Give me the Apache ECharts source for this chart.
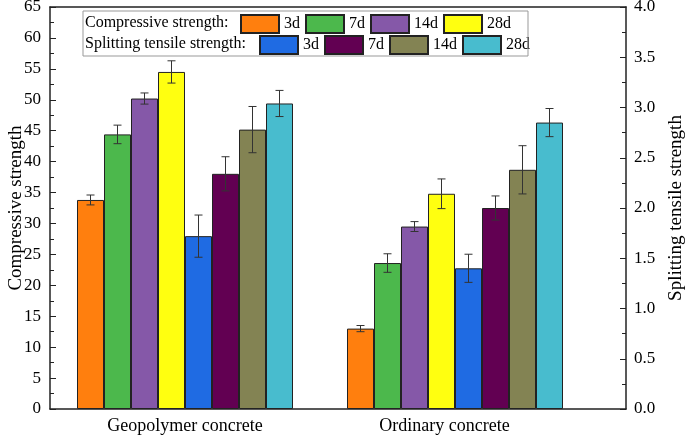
<!DOCTYPE html>
<html>
<head>
<meta charset="utf-8">
<script src="https://cdn.jsdelivr.net/npm/echarts@6/dist/echarts.min.js"></script>
<style>html,body{margin:0;padding:0;background:#fff}#c{width:685px;height:445px}</style>
</head>
<body>
<div id="c"></div>
<script>
// ---- data ----
var categories = ['Geopolymer concrete', 'Ordinary concrete'];
var ages = ['3d', '7d', '14d', '28d'];
var comp3d = [33.8, 13.0], comp7d = [44.4, 23.6], comp14d = [50.2, 29.5], comp28d = [54.5, 34.8];
var compErr3d = [0.8, 0.5], compErr7d = [1.5, 1.5], compErr14d = [0.9, 0.8], compErr28d = [1.8, 2.4];
var tens3d = [1.72, 1.40], tens7d = [2.34, 2.00], tens14d = [2.78, 2.38], tens28d = [3.04, 2.85];
var tensErr3d = [0.21, 0.14], tensErr7d = [0.17, 0.12], tensErr14d = [0.23, 0.24], tensErr28d = [0.13, 0.14];
var leftTicks = {min: 0, max: 65, interval: 5};
var rightTicks = {min: 0, max: 4, interval: 0.5};

var compColors = ['#FF7F0E', '#4CB84C', '#8558A8', '#FFFF10'];
var tensColors = ['#1F6BE3', '#620052', '#838353', '#48BCCE'];
var compVals = [comp3d, comp7d, comp14d, comp28d];
var compErrs = [compErr3d, compErr7d, compErr14d, compErr28d];
var tensVals = [tens3d, tens7d, tens14d, tens28d];
var tensErrs = [tensErr3d, tensErr7d, tensErr14d, tensErr28d];

var BAR_W = 27;
var FONT = 'Liberation Serif';
var AX = '#222';

var series = [];
ages.forEach(function (a, i) {
  series.push({
    name: 'C' + a, type: 'bar', xAxisIndex: 1, yAxisIndex: 1,
    data: compVals[i], barWidth: BAR_W, barGap: '0%',
    itemStyle: {color: compColors[i], borderColor: '#222', borderWidth: 1}
  });
});
ages.forEach(function (a, i) {
  series.push({
    name: 'S' + a, type: 'bar', xAxisIndex: 1, yAxisIndex: 2,
    data: tensVals[i], barWidth: BAR_W, barGap: '0%',
    itemStyle: {color: tensColors[i], borderColor: '#222', borderWidth: 1}
  });
});

function errData(vals, errs, base) {
  var out = [];
  vals.forEach(function (v, s) {
    v.forEach(function (val, c) { out.push([c, val, errs[s][c], base + s]); });
  });
  return out;
}
function renderErr(params, api) {
  var c = api.value(0), v = api.value(1), e = api.value(2), idx = api.value(3);
  var off = (idx - 3.5) * BAR_W;
  var hi = api.coord([c, v + e]), lo = api.coord([c, v - e]);
  var x = hi[0] + off, cap = 4;
  var st = {stroke: '#333', lineWidth: 1};
  return {type: 'group', children: [
    {type: 'line', shape: {x1: x, y1: hi[1], x2: x, y2: lo[1]}, style: st},
    {type: 'line', shape: {x1: x - cap, y1: hi[1], x2: x + cap, y2: hi[1]}, style: st},
    {type: 'line', shape: {x1: x - cap, y1: lo[1], x2: x + cap, y2: lo[1]}, style: st}
  ]};
}
series.push({type: 'custom', xAxisIndex: 1, yAxisIndex: 1, data: errData(compVals, compErrs, 0), renderItem: renderErr, z: 5});
series.push({type: 'custom', xAxisIndex: 1, yAxisIndex: 2, data: errData(tensVals, tensErrs, 4), renderItem: renderErr, z: 5});

var legendCommon = {
  orient: 'horizontal', itemWidth: 38, itemHeight: 18, itemGap: 5, icon: 'rect',
  textStyle: {fontFamily: FONT, fontSize: 16, color: '#000'},
  formatter: function (n) { return n.slice(1); },
  selectedMode: false, padding: 0
};
var numRich = {n: {fontFamily: FONT, fontSize: 17, color: '#000'}};

var option = {
  backgroundColor: '#fff',
  animation: false,
  textStyle: {fontFamily: FONT},
  grid: [
    {left: 50, right: 59, top: 7, bottom: 36, containLabel: false, outerBoundsMode: 'none'},
    {left: 50, right: 95, top: 7, bottom: 36, containLabel: false, outerBoundsMode: 'none'}
  ],
  title: [
    {text: 'Compressive strength:', left: 85, top: 15, padding: 0, textStyle: {fontFamily: FONT, fontSize: 16, fontWeight: 'normal', color: '#000'}},
    {text: 'Splitting tensile strength:', left: 85, top: 36, padding: 0, textStyle: {fontFamily: FONT, fontSize: 16, fontWeight: 'normal', color: '#000'}}
  ],
  legend: [
    Object.assign({data: ages.map(function (a) { return 'C' + a; }), left: 240, top: 14}, legendCommon),
    Object.assign({data: ages.map(function (a) { return 'S' + a; }), left: 259, top: 35}, legendCommon)
  ],
  graphic: [{type: 'rect', shape: {x: 83, y: 11, width: 445, height: 45}, style: {fill: 'none', stroke: '#999', lineWidth: 1}, z: 10}],
  xAxis: [
    {gridIndex: 0, type: 'value', min: 0, max: 1, position: 'bottom', axisLine: {lineStyle: {color: AX, width: 1.5}}, axisTick: {show: false}, axisLabel: {show: false}, splitLine: {show: false}},
    {gridIndex: 1, type: 'category', data: categories, position: 'bottom',
      axisLine: {show: false}, axisTick: {show: false}, splitLine: {show: false},
      axisLabel: {margin: 8, fontFamily: FONT, fontSize: 18, color: '#000',
        formatter: function (v, i) { return i === 1 ? '{b|' + v + '}' : '{a|' + v + '}'; },
        rich: {a: {fontFamily: FONT, fontSize: 18, color: '#000'}, b: {fontFamily: FONT, fontSize: 18, color: '#000', padding: [0, 21, 0, 0]}}}},
    {gridIndex: 0, type: 'value', min: 0, max: 1, position: 'top', axisLine: {lineStyle: {color: AX, width: 1.5}}, axisTick: {show: false}, axisLabel: {show: false}, splitLine: {show: false}}
  ],
  yAxis: [
    {gridIndex: 0, type: 'value', show: false, min: 0, max: 1},
    {gridIndex: 1, type: 'value', position: 'left', min: leftTicks.min, max: leftTicks.max, interval: leftTicks.interval,
      name: 'Compressive strength', nameLocation: 'middle', nameGap: 24, nameMoveOverlap: false,
      nameTextStyle: {fontFamily: FONT, fontSize: 19, color: '#000'},
      axisLine: {show: true, lineStyle: {color: AX, width: 1.5}},
      axisTick: {show: true, inside: true, length: 6, lineStyle: {color: AX}},
      minorTick: {show: true, splitNumber: 2, length: 4, lineStyle: {color: AX}},
      axisLabel: {margin: 9, fontFamily: FONT, fontSize: 17, color: '#000', formatter: function (v) { return '{n|' + v + '}'; }, rich: numRich},
      splitLine: {show: false}},
    {gridIndex: 1, type: 'value', position: 'right', offset: 36, min: rightTicks.min, max: rightTicks.max, interval: rightTicks.interval,
      name: 'Splitting tensile strength', nameLocation: 'middle', nameGap: 41, nameRotate: 90, nameMoveOverlap: false,
      nameTextStyle: {fontFamily: FONT, fontSize: 19, color: '#000'},
      axisLine: {show: true, lineStyle: {color: AX, width: 1.5}},
      axisTick: {show: true, inside: true, length: 6, lineStyle: {color: AX}},
      minorTick: {show: true, splitNumber: 2, length: 4, lineStyle: {color: AX}},
      axisLabel: {margin: 8, fontFamily: FONT, fontSize: 17, color: '#000', formatter: function (v) { return '{n|' + v.toFixed(1) + '}'; }, rich: numRich},
      splitLine: {show: false}}
  ],
  series: series
};
var chart = echarts.init(document.getElementById('c'));
chart.setOption(option);
</script>
</body>
</html>
